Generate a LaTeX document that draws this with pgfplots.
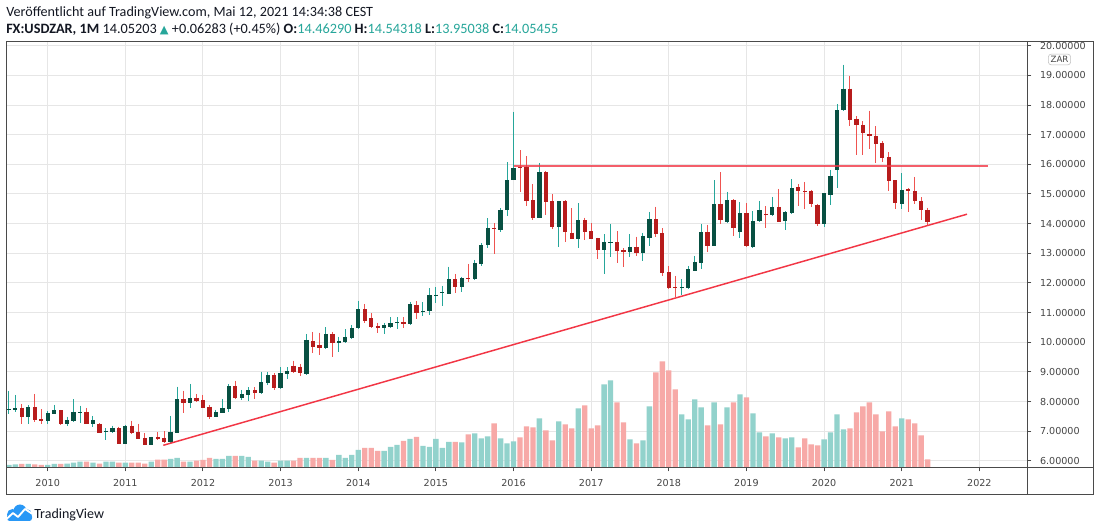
\documentclass[border=0pt]{standalone}
\usepackage{fontspec}
\setmainfont{Carlito}
\newfontfamily\axisfont{DejaVu Sans}
\usepackage{pgfplots}
\usepackage{pgfplotstable}
\pgfplotsset{compat=1.18}

\definecolor{upbody}{RGB}{8,80,66}
\definecolor{upwick}{RGB}{38,166,154}
\definecolor{downbody}{RGB}{183,28,28}
\definecolor{downwick}{RGB}{239,83,80}
\definecolor{volup}{RGB}{146,210,204}
\definecolor{voldown}{RGB}{247,169,167}
\definecolor{gridc}{RGB}{230,230,230}
\definecolor{framec}{RGB}{74,74,74}
\definecolor{labelc}{RGB}{70,70,70}
\definecolor{hdrc}{RGB}{19,23,34}
\definecolor{tvteal}{RGB}{38,166,154}
\definecolor{trendc}{RGB}{242,54,69}
\definecolor{tvblue}{RGB}{41,152,246}

% i = month index (1 = Jul 2009), o h l c = open high low close, v = volume bar height
\pgfplotstableread{
i o h l c v
1 7.708 8.361 7.585 7.753 2.3
2 7.731 8.226 7.641 7.787 3.0
4 7.495 7.888 7.236 7.821 3.3
7 7.360 7.674 7.236 7.607 2.3
8 7.596 7.888 7.573 7.719 3.3
10 7.258 7.495 7.191 7.382 3.7
11 7.360 8.079 7.326 7.652 4.7
12 7.630 7.866 7.292 7.652 5.7
14 7.247 7.517 7.157 7.382 4.7
16 6.966 7.101 6.719 7.022 5.7
17 6.977 7.191 6.932 7.112 5.7
19 6.584 7.213 6.572 7.180 4.7
23 6.550 6.820 6.539 6.809 5.7
26 6.640 7.517 6.617 6.977 8.3
27 6.955 8.507 6.932 8.079 9.3
29 7.944 8.597 7.798 8.124 5.7
33 7.495 7.720 7.472 7.652 8.3
34 7.630 8.091 7.607 7.787 8.3
35 7.765 8.586 7.663 8.529 11.3
37 8.136 8.395 8.057 8.260 11.3
38 8.237 8.485 8.035 8.395 10.3
40 8.305 9.013 8.260 8.664 6.7
41 8.642 9.013 8.563 8.889 5.7
43 8.462 9.159 8.417 8.957 6.7
44 8.946 9.159 8.754 9.035 6.7
47 8.934 10.284 8.889 10.081 9.3
50 9.823 10.509 9.789 10.284 9.3
52 9.991 10.194 9.688 10.059 12.3
53 10.025 10.441 9.991 10.194 9.3
54 10.160 10.587 10.126 10.475 12.3
55 10.475 11.408 10.441 11.116 17.3
59 10.486 10.666 10.272 10.576 16.3
60 10.531 10.846 10.486 10.643 20.3
61 10.643 10.846 10.463 10.688 22.3
63 10.621 11.363 10.598 11.296 28.3
65 11.037 11.363 10.902 11.071 21.3
66 11.071 11.824 10.924 11.588 20.3
67 11.588 11.858 11.318 11.610 28.3
68 11.650 11.903 11.228 11.680 19.3
69 11.633 12.555 11.633 12.128 25.3
71 11.880 12.218 11.712 12.173 25
73 12.139 12.780 12.116 12.668 34
74 12.645 13.342 12.589 13.286 29
75 13.264 14.174 13.174 13.860 31
77 13.770 14.512 13.702 14.467 29
78 14.444 16.064 14.242 15.479 24
79 15.456 17.773 15.456 15.884 26
83 14.196 16.029 14.185 15.737 49
86 13.892 14.770 13.218 14.758 46
89 13.499 14.691 13.184 14.117 59
93 13.116 13.645 12.295 13.397 83
94 13.352 13.982 12.880 13.375 87
97 13.049 13.645 12.880 13.218 28
99 13.015 13.690 12.734 13.577 27
100 13.521 14.398 13.251 14.151 61
105 11.823 12.127 11.587 11.868 53
106 11.823 12.577 11.789 12.464 48
107 12.420 12.915 12.397 12.712 68
108 12.690 13.994 12.487 13.724 60
110 13.252 15.456 13.230 14.669 65
112 14.051 15.074 14.028 14.804 60
114 13.702 14.714 13.522 14.366 73
116 13.219 14.411 13.185 14.096 54
117 14.073 14.770 14.062 14.467 35
119 14.287 14.905 14.264 14.568 34
121 14.073 14.411 13.792 14.377 29
122 14.354 15.501 14.332 15.186 30
127 13.994 15.040 13.904 15.018 28
128 14.956 15.816 14.641 15.614 35
129 15.794 18.032 15.198 17.840 53
130 17.818 19.359 17.784 18.549 38
139 14.658 15.692 14.500 15.141 49
}\updata

\pgfplotstableread{
i o h l c v
3 7.798 7.922 7.247 7.495 3.3
5 7.809 8.259 7.303 7.382 3.0
6 7.405 7.742 7.247 7.348 2.3
9 7.708 7.719 7.213 7.247 3.3
13 7.652 7.787 7.247 7.258 5.7
15 7.247 7.270 6.932 6.944 3.7
18 7.101 7.157 6.572 6.584 4.7
20 7.180 7.360 6.910 6.955 4.7
21 6.977 7.247 6.741 6.752 4.7
22 6.775 6.932 6.539 6.550 3.7
24 6.809 6.977 6.696 6.741 7.7
25 6.775 7.011 6.617 6.640 7.7
28 8.079 8.372 7.630 7.944 5.7
30 8.124 8.259 8.001 8.023 6.7
31 8.057 8.226 7.776 7.798 7.3
32 7.832 7.888 7.405 7.495 9.3
36 8.529 8.709 8.102 8.136 11.3
39 8.395 8.485 8.102 8.305 6.7
42 8.889 8.957 8.395 8.462 4.7
45 9.215 9.384 8.979 9.002 6.7
46 9.182 9.272 8.867 8.957 9.3
48 10.048 10.351 9.632 9.856 9.3
49 9.901 10.329 9.575 9.823 9.3
51 10.284 10.351 9.519 9.991 7.3
56 11.116 11.296 10.643 10.733 19.3
57 10.812 10.981 10.486 10.531 19.3
58 10.553 10.666 10.328 10.486 16.3
62 10.688 10.846 10.486 10.632 26.3
64 11.273 11.385 10.801 11.003 30.3
70 12.128 12.308 11.678 11.880 25.3
72 12.173 12.645 12.038 12.128 33
76 13.860 14.017 12.971 13.815 44
80 15.895 16.469 15.052 15.861 30
81 15.895 16.266 14.602 14.748 41
82 14.792 15.332 14.128 14.196 40
84 15.737 15.759 14.297 14.736 37
85 14.758 14.994 13.836 13.892 27
87 14.758 14.792 13.397 13.724 43
88 13.701 14.522 13.499 13.499 39
90 14.117 14.207 13.454 13.724 62
91 13.746 14.016 13.476 13.499 39
92 13.510 13.532 12.801 13.116 42
95 13.375 13.746 12.678 13.083 65
96 13.105 13.173 12.543 13.049 45
98 13.218 13.566 12.914 13.015 24
101 14.151 14.578 13.566 13.656 95
102 13.679 13.847 12.239 12.329 106
103 12.363 12.577 11.812 11.834 97
104 11.868 12.239 11.542 11.823 78
109 13.724 13.961 13.061 13.252 42
111 14.669 15.726 13.994 14.107 43
113 14.804 14.827 13.590 13.837 65
115 14.366 14.692 13.219 13.230 70
118 14.332 14.579 13.859 14.276 31
120 14.568 15.175 14.039 14.039 30
123 15.243 15.321 14.602 15.085 20
124 15.108 15.411 14.500 15.085 29
125 15.108 15.141 14.545 14.658 23
126 14.635 14.669 13.916 13.994 22
131 18.549 18.988 17.278 17.503 39
132 17.537 17.616 16.300 17.312 55
133 17.334 17.447 16.322 17.042 61
134 17.031 17.807 16.525 16.941 65
135 16.963 17.278 16.041 16.693 53
136 16.727 16.795 16.064 16.198 36
137 16.255 16.412 15.085 15.423 56
138 15.456 15.468 14.500 14.680 41
140 15.175 15.198 14.388 15.085 48
141 15.108 15.580 14.658 14.748 44
142 14.770 14.883 14.129 14.444 32
143 14.4629 14.54318 13.95038 14.05455 8
}\downdata

\begin{document}
\begin{tikzpicture}
\fill[white] (0,0) rectangle (825pt,399pt);
\path[use as bounding box] (0,0) rectangle (825pt,399pt);

% price axis
\begin{axis}[
  at={(4.5pt,48.525pt)}, anchor=south west,
  width=765.975pt, height=318.975pt, scale only axis,
  xmin=0.555, xmax=158.41, ymin=5.785, ymax=20.125,
  axis line style={draw=framec, line width=0.75pt},
  xtick={7,19,31,43,55,67,79,91,103,115,127,139,151},
  xticklabels={2010,2011,2012,2013,2014,2015,2016,2017,2018,2019,2020,2021,2022},
  ytick={6,7,...,20},
  xtick pos=left, ytick pos=right, yticklabel pos=right,
  tick align=outside, major tick length=3pt,
  tick style={draw=framec, line width=0.75pt},
  grid=major, major grid style={draw=gridc, line width=0.75pt},
  ticklabel style={font=\axisfont\fontsize{7.2}{8}\selectfont, text=labelc},
  yticklabel style={/pgf/number format/.cd, fixed, fixed zerofill, precision=5, assume math mode=true, /tikz/.cd, anchor=west, xshift=3pt},
  xticklabel style={yshift=-2.5pt},
]
% wicks
\addplot[draw=none, forget plot, error bars/.cd, y dir=minus, y explicit, error mark=none,
  error bar style={line width=0.75pt, draw=upwick}]
  table[x=i, y=h, y error minus expr={\thisrow{h}-\thisrow{l}}] {\updata};
\addplot[draw=none, forget plot, error bars/.cd, y dir=minus, y explicit, error mark=none,
  error bar style={line width=0.75pt, draw=downwick}]
  table[x=i, y=h, y error minus expr={\thisrow{h}-\thisrow{l}}] {\downdata};
% bodies
\addplot[draw=none, forget plot, error bars/.cd, y dir=minus, y explicit, error mark=none,
  error bar style={line width=3.2pt, draw=upbody}]
  table[x=i, y=c, y error minus expr={\thisrow{c}-\thisrow{o}}] {\updata};
\addplot[draw=none, forget plot, error bars/.cd, y dir=minus, y explicit, error mark=none,
  error bar style={line width=3.2pt, draw=downbody}]
  table[x=i, y=o, y error minus expr={\thisrow{o}-\thisrow{c}}] {\downdata};
% trend lines
\addplot[trendc, line width=1.1pt] coordinates {(24.87,6.527) (149.09,14.319)};
\addplot[trendc, line width=1.3pt, opacity=0.8] coordinates {(79,15.944) (152.3,15.944)};
\end{axis}

% volume axis
\begin{axis}[
  at={(4.5pt,48.525pt)}, anchor=south west,
  width=765.975pt, height=318.975pt, scale only axis,
  xmin=0.555, xmax=158.41, ymin=0, ymax=425.3,
  hide axis,
]
\addplot[ybar, bar width=4pt, bar shift=0pt, fill=volup, draw=none] table[x=i, y=v] {\updata};
\addplot[ybar, bar width=4pt, bar shift=0pt, fill=voldown, draw=none] table[x=i, y=v] {\downdata};
\end{axis}

\begin{scope}[x=0.75pt, y=-0.75pt, yshift=399pt]
\draw[framec, line width=0.75pt] (6,42) rectangle (1093,495);
\draw[framec, line width=0.75pt] (6,467.3) -- (1093,467.3);
\draw[framec, line width=0.75pt] (1027.3,42) -- (1027.3,495);
\node[draw=black!25, rounded corners=2pt, fill=white, font=\axisfont\fontsize{6.5}{7}\selectfont, text=labelc, inner sep=1.6pt] at (1059.5,59.5) {ZAR};
% header
\node[anchor=base west, inner sep=0, font=\fontsize{10.6}{12}\selectfont, text=hdrc] at (6,17)
  {Veröffentlicht auf TradingView.com, Mai 12, 2021 14:34:38 CEST};
\node[anchor=base west, inner sep=0, font=\fontsize{10.7}{12}\selectfont, text=hdrc] at (6,34)
  {\textbf{FX:USDZAR, 1M}\ 14.05203 {\color{tvteal}\axisfont\fontsize{8.5}{9}\selectfont ▲} +0.06283 (+0.45\%) \textbf{O:}{\color{tvteal}14.46290} \textbf{H:}{\color{tvteal}14.54318} \textbf{L:}{\color{tvteal}13.95038} \textbf{C:}{\color{tvteal}14.05455}};
% logo
\fill[tvblue] (12.5,514.5) circle (5.5);
\fill[tvblue] (20,511) circle (6.5);
\fill[tvblue] (26.5,514.5) circle (5.5);
\fill[tvblue, rounded corners=2] (7,514) rectangle (32,521);
\draw[white, line width=1.4pt, line join=round] (6.5,519) -- (13,513) -- (18,517) -- (25,509) -- (32.5,514);
\node[anchor=base west, inner sep=0, font=\fontsize{10.5}{12}\selectfont, text=hdrc] at (34,519) {TradingView};
\end{scope}
\end{tikzpicture}
\end{document}
